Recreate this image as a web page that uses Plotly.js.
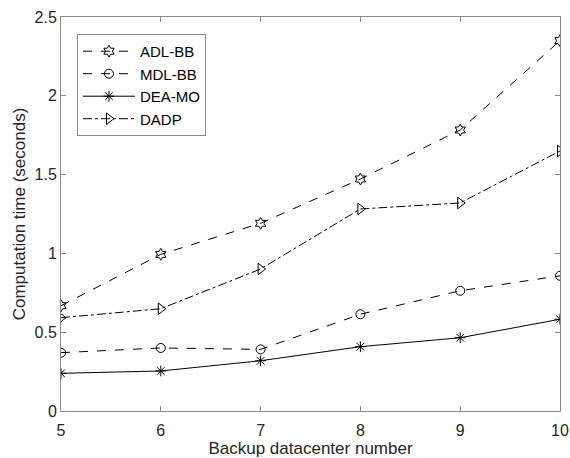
<!DOCTYPE html>
<html>
<head>
<meta charset="utf-8">
<script src="https://cdn.plot.ly/plotly-3.0.1.min.js"></script>
<style>html,body{margin:0;padding:0;background:#fff;}#chart{width:570px;height:458px;}</style>
</head>
<body>
<div id="chart"></div>
<script>
const datacenters = [5, 6, 7, 8, 9, 10];
const adlBB = [0.668, 0.994, 1.191, 1.472, 1.783, 2.35];
const mdlBB = [0.37, 0.40, 0.391, 0.614, 0.763, 0.858];
const deaMO = [0.239, 0.254, 0.319, 0.408, 0.465, 0.582];
const dadp  = [0.592, 0.649, 0.901, 1.282, 1.32, 1.65];
const seriesNames = ["ADL-BB", "MDL-BB", "DEA-MO", "DADP"];
const xTicks = [5, 6, 7, 8, 9, 10];
const yTicks = [0, 0.5, 1, 1.5, 2, 2.5];

const styles = [
  {dash: "dash", symbol: "hexagram-open", size: 9},
  {dash: "dash", symbol: "circle-open", size: 9},
  {dash: "solid", symbol: "asterisk-open", size: 9},
  {dash: "dashdot", symbol: "triangle-right-open", size: 10}
];
const values = [adlBB, mdlBB, deaMO, dadp];
const traces = values.map((v, i) => ({
  x: datacenters, y: v, name: seriesNames[i], type: "scatter", mode: "lines+markers",
  line: {color: "#000", width: 1, dash: styles[i].dash},
  marker: {symbol: styles[i].symbol, size: styles[i].size, color: "#000", line: {color: "#000", width: 1}}
}));

const FONT = "Liberation Sans, Arial, sans-serif";
const axisCommon = {
  showgrid: false, zeroline: false, showline: true, mirror: "ticks",
  linecolor: "#8a8a8a", linewidth: 1, ticks: "inside", ticklen: 5, tickcolor: "#8a8a8a",
  tickfont: {family: FONT, size: 16, color: "#262626"}
};
const layout = {
  width: 570, height: 458,
  margin: {l: 61, r: 10, t: 17, b: 47},
  paper_bgcolor: "#fff", plot_bgcolor: "#fff",
  showlegend: true,
  xaxis: Object.assign({}, axisCommon, {
    range: [5, 10], tickvals: xTicks, ticktext: xTicks.map(String), ticklabelstandoff: 5,
    title: {text: "Backup datacenter number", standoff: 3, font: {family: FONT, size: 17, color: "#262626"}}
  }),
  yaxis: Object.assign({}, axisCommon, {
    range: [0, 2.5], tickvals: yTicks, ticktext: yTicks.map(String),
    title: {text: "Computation time (seconds)", standoff: 4, font: {family: FONT, size: 17, color: "#262626"}}
  }),
  legend: {
    x: 0.032, y: 0.957, xanchor: "left", yanchor: "top",
    bgcolor: "#fff", bordercolor: "#8a8a8a", borderwidth: 1,
    font: {family: FONT, size: 15, color: "#000"},
    tracegroupgap: 0, itemwidth: 52
  }
};
Plotly.newPlot("chart", traces, layout, {displayModeBar: false, staticPlot: true});
</script>
</body>
</html>
